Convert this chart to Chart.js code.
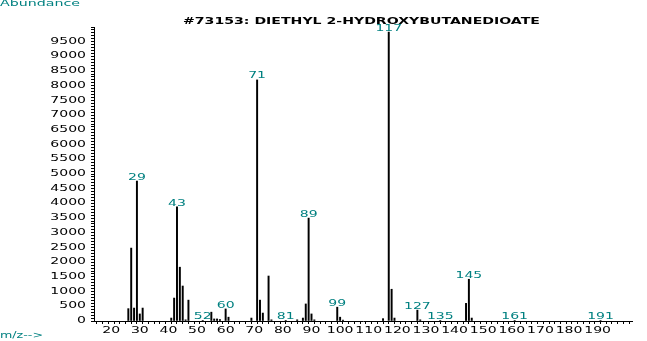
<!DOCTYPE html>
<html>
<head>
<meta charset="utf-8">
<script src="https://cdn.jsdelivr.net/npm/chart.js@4/dist/chart.umd.min.js"></script>
<style>
  html, body { margin: 0; padding: 0; background: #fff; }
  #wrap { position: relative; width: 647px; height: 341px; overflow: hidden; background: #fff; }
  #c { position: absolute; left: 0; top: 0; }
  .txt { position: absolute; white-space: nowrap; font-family: "DejaVu Sans", sans-serif; line-height: 1; transform-origin: 0 0; }
  #abund { left: 0; top: 0px; color: #008080; font-size: 8px; }
  #mz { left: 0; top: 332px; color: #008080; font-size: 8px; }
  #title { left: 183px; top: 18px; color: #000; font-size: 8px; font-weight: bold; }
</style>
</head>
<body>
<div id="wrap">
  <canvas id="c" width="647" height="341"></canvas>
  <div class="txt" id="abund" data-w="80">Abundance</div>
  <div class="txt" id="mz" data-w="43">m/z--&gt;</div>
  <div class="txt" id="title" data-w="357">#73153: DIETHYL 2-HYDROXYBUTANEDIOATE</div>
</div>
<script>
// ---- data ----
const mzValues = [26, 27, 28, 29, 30, 31, 41, 42, 43, 44, 45, 46, 47, 52, 55, 56, 57, 58, 60, 61,
                  69, 71, 72, 73, 75, 76, 81, 85, 87, 88, 89, 90, 91, 99, 100, 101,
                  115, 117, 118, 119, 127, 128, 135, 144, 145, 146, 161, 191];
const abundances = [420, 2480, 440, 4760, 240, 440, 100, 780, 3880, 1830, 1190, 40, 710, 20, 300, 70, 70, 50, 410, 130,
                    100, 8200, 710, 270, 1530, 40, 20, 40, 100, 580, 3500, 240, 40, 470, 130, 30,
                    80, 9830, 1080, 100, 370, 40, 20, 600, 1420, 100, 15, 15];
const labelledPeaks = [29, 43, 52, 60, 71, 81, 89, 99, 117, 127, 135, 145, 161, 191];
const xTickLabels = [20, 30, 40, 50, 60, 70, 80, 90, 100, 110, 120, 130, 140, 150, 160, 170, 180, 190];
const yTickLabels = [0, 500, 1000, 1500, 2000, 2500, 3000, 3500, 4000, 4500, 5000, 5500, 6000, 6500, 7000, 7500, 8000, 8500, 9000, 9500];

const TEAL = '#008080';
const STRETCH = 1.75;   // horizontal stretch of the wide plotter-style font
const TICK_FONT = { family: 'DejaVu Sans', size: 8, weight: 'normal' };

// stretch HTML texts horizontally to the reference widths
(function fitTexts() {
  const m = document.createElement('canvas').getContext('2d');
  document.querySelectorAll('.txt').forEach(el => {
    const cs = getComputedStyle(el);
    m.font = cs.fontWeight + ' ' + cs.fontSize + ' ' + cs.fontFamily;
    const w = m.measureText(el.textContent).width;
    const sx = parseFloat(el.dataset.w) / w;
    el.style.transform = 'scaleX(' + sx.toFixed(3) + ')';
  });
})();

// canvas text drawn horizontally stretched around its anchor
const canvas = document.getElementById('c');
const ctx2d = canvas.getContext('2d');
const origFill = ctx2d.fillText.bind(ctx2d);
const origMeasure = ctx2d.measureText.bind(ctx2d);
ctx2d.fillText = function (text, x, y, maxWidth) {
  this.save();
  this.translate(x, y);
  this.scale(STRETCH, 1);
  if (maxWidth === undefined) origFill(text, 0, 0);
  else origFill(text, 0, 0, maxWidth / STRETCH);
  this.restore();
};
ctx2d.measureText = function (text) {
  const r = origMeasure(text);
  return { width: r.width * STRETCH, actualBoundingBoxAscent: r.actualBoundingBoxAscent, actualBoundingBoxDescent: r.actualBoundingBoxDescent };
};

const points = mzValues.map((m, i) => ({ x: m, y: abundances[i] }));

const peakLabelPlugin = {
  id: 'peakLabels',
  afterDatasetsDraw(chart) {
    const ctx = chart.ctx;
    const xs = chart.scales.x, ys = chart.scales.y;
    ctx.save();
    ctx.font = 'normal 8px "DejaVu Sans"';
    ctx.fillStyle = TEAL;
    ctx.textAlign = 'center';
    ctx.textBaseline = 'bottom';
    labelledPeaks.forEach(m => {
      const i = mzValues.indexOf(m);
      const v = i >= 0 ? abundances[i] : 0;
      const x = xs.getPixelForValue(m);
      const y = ys.getPixelForValue(v) + 0.5;
      ctx.fillText(String(m), x, y);
    });
    ctx.restore();
  }
};

new Chart(canvas, {
  type: 'bar',
  data: {
    datasets: [{
      data: points,
      backgroundColor: '#000',
      borderWidth: 0,
      barThickness: 1.3
    }]
  },
  options: {
    responsive: false,
    devicePixelRatio: 1,
    animation: false,
    events: [],
    layout: { padding: { top: 27, right: 15, left: 0, bottom: 0 } },
    plugins: { legend: { display: false }, tooltip: { enabled: false }, title: { display: false } },
    scales: {
      x: {
        type: 'linear',
        min: 14,
        max: 202,
        offset: false,
        afterFit(s) { s.height = 20; s.paddingLeft = 0; s.paddingRight = 0; },
        border: { display: true, color: '#000', width: 1 },
        grid: { display: true, drawOnChartArea: false, drawTicks: true, tickLength: 3, color: '#000', lineWidth: 1 },
        ticks: {
          stepSize: 2,
          autoSkip: false,
          maxRotation: 0,
          minRotation: 0,
          padding: 2,
          color: '#000',
          font: TICK_FONT,
          callback: v => xTickLabels.includes(v) ? String(v) : ''
        }
      },
      y: {
        type: 'linear',
        min: 0,
        max: 10000,
        afterFit(s) { s.width = 94; s.paddingTop = 0; s.paddingBottom = 0; },
        border: { display: true, color: '#000', width: 1 },
        grid: { display: true, drawOnChartArea: false, drawTicks: true, tickLength: 3, color: '#000', lineWidth: 1 },
        ticks: {
          stepSize: 100,
          maxTicksLimit: 1000,
          autoSkip: false,
          padding: 5,
          color: '#000',
          font: TICK_FONT,
          callback: v => yTickLabels.includes(v) ? String(v) : ''
        }
      }
    }
  },
  plugins: [peakLabelPlugin]
});
</script>
</body>
</html>
